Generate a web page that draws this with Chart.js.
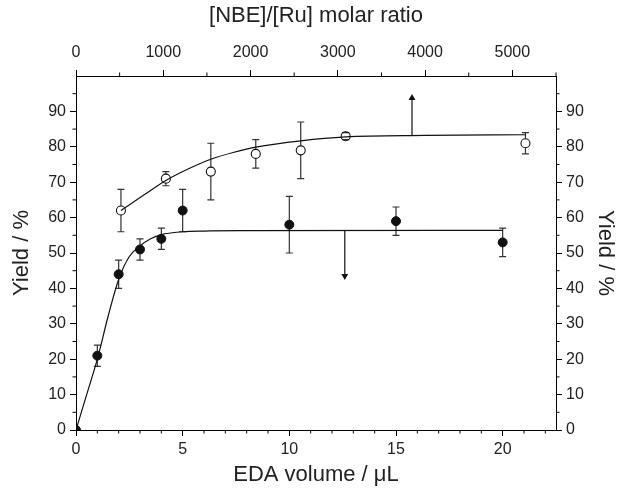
<!DOCTYPE html>
<html>
<head>
<meta charset="utf-8">
<script src="https://cdn.jsdelivr.net/npm/chart.js@4"></script>
<style>
  html, body { margin: 0; padding: 0; background: #fff; }
</style>
</head>
<body>
<canvas id="yieldChart" width="622" height="490"></canvas>
<script>
// EDA volume series (bottom / left axes)
const edaVolume = [0, 1, 2, 3, 4, 5, 10, 15, 20];
const edaYield = [0, 21, 44, 51, 54, 62, 58, 59, 53];
const edaErr = [0, 3, 4, 3, 3, 6, 8, 4, 4];

// [NBE]/[Ru] ratio series (top / right axes)
const ratio = [515, 1030, 1545, 2060, 2575, 3090, 5150];
const ratioYield = [62, 71, 73, 78, 79, 83, 81];
const ratioErr = [6, 2, 8, 4, 8, 1, 3];

// fitted curves
const edaFitX = [0, 0.5, 1, 1.5, 2, 2.5, 3, 3.5, 4, 5, 6, 8, 20];
const edaFitY = [0, 10, 20, 32, 42.5, 49, 52, 54, 55.2, 56, 56.2, 56.3, 56.4];
const ratioFitX = [515, 772, 1030, 1290, 1545, 1800, 2060, 2575, 3090, 4000, 5150];
const ratioFitY = [62, 66.3, 70.5, 73.8, 76.5, 78.4, 79.9, 81.7, 82.8, 83.2, 83.4];

// arrows pointing to the axis each curve belongs to
const edaArrowX = [12.6, 12.6];
const edaArrowY = [56.4, 43.5];
const ratioArrowX = [3850, 3850];
const ratioArrowY = [83.2, 93.8];

// tick labels and minor ticks
const bottomTicks = [0, 5, 10, 15, 20];
const bottomMinor = [1, 2, 3, 4, 6, 7, 8, 9, 11, 12, 13, 14, 16, 17, 18, 19, 21, 22];
const topTicks = [0, 1000, 2000, 3000, 4000, 5000];
const topMinor = [500, 1500, 2500, 3500, 4500, 5500];
const yieldTicks = [0, 10, 20, 30, 40, 50, 60, 70, 80, 90];
const yieldMinor = [5, 15, 25, 35, 45, 55, 65, 75, 85, 95];

const FONT = "'Liberation Sans', Arial, sans-serif";
const toPoints = (xs, ys) => xs.map((x, i) => ({ x: x, y: ys[i] }));

// error bars, drawn before the markers
const errorBars = {
    id: 'errorBars',
    beforeDatasetsDraw(chart) {
        const ctx = chart.ctx;
        const sets = [
            { xs: edaVolume, ys: edaYield, err: edaErr, sx: chart.scales.x, sy: chart.scales.y, gap: 0 },
            { xs: ratio, ys: ratioYield, err: ratioErr, sx: chart.scales.x2, sy: chart.scales.y2, gap: 4.5 },
        ];
        ctx.save();
        ctx.strokeStyle = '#333';
        ctx.lineWidth = 1.2;
        sets.forEach(s => {
            s.xs.forEach((x, i) => {
                if (!s.err[i]) return;
                const px = s.sx.getPixelForValue(x);
                const py = s.sy.getPixelForValue(s.ys[i]);
                const top = s.sy.getPixelForValue(s.ys[i] + s.err[i]);
                const bot = s.sy.getPixelForValue(s.ys[i] - s.err[i]);
                ctx.beginPath();
                ctx.moveTo(px, top);
                ctx.lineTo(px, Math.max(top, py - s.gap));
                ctx.moveTo(px, Math.min(bot, py + s.gap));
                ctx.lineTo(px, bot);
                ctx.moveTo(px - 3.5, top);
                ctx.lineTo(px + 3.5, top);
                ctx.moveTo(px - 3.5, bot);
                ctx.lineTo(px + 3.5, bot);
                ctx.stroke();
            });
        });
        ctx.restore();
    },
};

// shorter minor ticks outside the box
const minorTicks = {
    id: 'minorTicks',
    afterDraw(chart) {
        const ctx = chart.ctx;
        const area = chart.chartArea;
        const len = 3.5;
        ctx.save();
        ctx.strokeStyle = '#000';
        ctx.lineWidth = 1;
        ctx.beginPath();
        bottomMinor.forEach(v => {
            const px = chart.scales.x.getPixelForValue(v);
            ctx.moveTo(px, area.bottom);
            ctx.lineTo(px, area.bottom + len);
        });
        topMinor.forEach(v => {
            const px = chart.scales.x2.getPixelForValue(v);
            ctx.moveTo(px, area.top);
            ctx.lineTo(px, area.top - len);
        });
        yieldMinor.forEach(v => {
            const py = chart.scales.y.getPixelForValue(v);
            ctx.moveTo(area.left, py);
            ctx.lineTo(area.left - len, py);
            ctx.moveTo(area.right, py);
            ctx.lineTo(area.right + len, py);
        });
        ctx.stroke();
        ctx.restore();
    },
};

const axis = (position, min, max, tickValues, title, size, titlePad, tickPad) => ({
    type: 'linear',
    position: position,
    min: min,
    max: max,
    afterBuildTicks: s => { s.ticks = tickValues.map(v => ({ value: v })); },
    afterFit: s => {
        if (position === 'left' || position === 'right') s.width = size;
        else s.height = size;
    },
    border: { display: true, color: '#000', width: 1 },
    grid: { drawOnChartArea: false, drawTicks: true, tickLength: 6, tickColor: '#000', tickWidth: 1 },
    ticks: {
        color: '#222', font: { family: FONT, size: 16 }, padding: tickPad,
        maxRotation: 0, autoSkip: false, callback: v => String(v),
    },
    title: { display: true, text: title, color: '#222', font: { family: FONT, size: 22 }, padding: titlePad },
});

const renderYieldChart = () => {
    const ctx = document.getElementById('yieldChart').getContext('2d');

    new Chart(ctx, {
        type: 'scatter',
        data: {
            datasets: [
                {
                    type: 'line',
                    data: toPoints(edaFitX, edaFitY),
                    xAxisID: 'x', yAxisID: 'y',
                    borderColor: '#111', borderWidth: 1.2,
                    pointRadius: 0, cubicInterpolationMode: 'monotone', fill: false,
                },
                {
                    type: 'line',
                    data: toPoints(ratioFitX, ratioFitY),
                    xAxisID: 'x2', yAxisID: 'y2',
                    borderColor: '#111', borderWidth: 1.2,
                    pointRadius: 0, cubicInterpolationMode: 'monotone', fill: false,
                },
                {
                    type: 'line',
                    data: toPoints(edaArrowX, edaArrowY),
                    xAxisID: 'x', yAxisID: 'y',
                    borderColor: '#111', borderWidth: 1.2, backgroundColor: '#111',
                    pointRadius: [0, 4], pointStyle: 'triangle', rotation: 180, pointBorderWidth: 0,
                },
                {
                    type: 'line',
                    data: toPoints(ratioArrowX, ratioArrowY),
                    xAxisID: 'x2', yAxisID: 'y2',
                    borderColor: '#111', borderWidth: 1.2, backgroundColor: '#111',
                    pointRadius: [0, 4], pointStyle: 'triangle', rotation: 0, pointBorderWidth: 0,
                },
                {
                    label: 'EDA volume',
                    data: toPoints(edaVolume, edaYield),
                    xAxisID: 'x', yAxisID: 'y',
                    backgroundColor: '#111', borderColor: '#111', borderWidth: 1,
                    pointRadius: 4.5,
                },
                {
                    label: '[NBE]/[Ru]',
                    data: toPoints(ratio, ratioYield),
                    xAxisID: 'x2', yAxisID: 'y2',
                    backgroundColor: 'rgba(0,0,0,0)', borderColor: '#111', borderWidth: 1.1,
                    pointRadius: 4.5,
                },
            ],
        },
        options: {
            responsive: false,
            animation: false,
            layout: { padding: 0 },
            plugins: { legend: { display: false }, tooltip: { enabled: false } },
            scales: {
                x: axis('bottom', 0, 22.5, bottomTicks, 'EDA volume / μL', 60, { top: 0, bottom: 2 }, 4),
                x2: axis('top', 0, 5500, topTicks, '[NBE]/[Ru] molar ratio', 76, { top: 3, bottom: 0 }, 8),
                y: axis('left', 0, 100, yieldTicks, 'Yield / %', 76, { top: 9, bottom: 0 }, 4),
                y2: axis('right', 0, 100, yieldTicks, 'Yield / %', 66, { top: 4, bottom: 0 }, 4),
            },
        },
        plugins: [errorBars, minorTicks],
    });
};

document.addEventListener('DOMContentLoaded', renderYieldChart);
</script>
</body>
</html>
